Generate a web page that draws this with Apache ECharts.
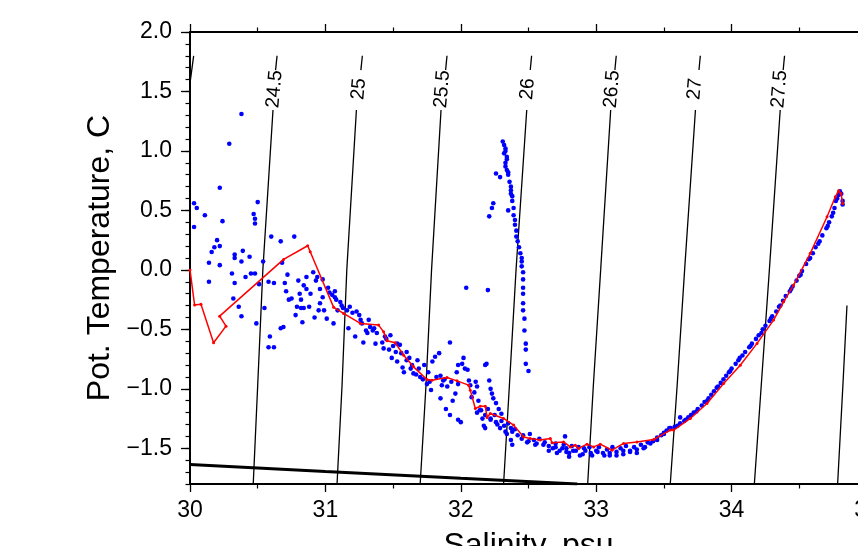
<!DOCTYPE html>
<html><head><meta charset="utf-8">
<script src="https://cdn.jsdelivr.net/npm/echarts@6/dist/echarts.min.js"></script>
<style>html,body{margin:0;padding:0;background:#fff}#c{width:858px;height:546px}</style>
</head><body><div id="c"></div>
<script>
// ---- axis ticks ----
const salinityTicks = [30, 31, 32, 33, 34, 35];
const tempTickLabels = [-1.5, -1.0, -0.5, 0.0, 0.5, 1.0, 1.5, 2.0];

// ---- isopycnals (sigma-theta), points [S, T]; null = label gap ----
const sigmaLevels = ['24', '24.5', '25', '25.5', '26', '26.5', '27', '27.5', '28'];
const iso24   = [[30.027,1.8],[30.0,1.57],[29.95,1.0]];
const iso245  = [[30.467,-1.8],[30.500,-0.97],[30.538,0],[30.613,1.344],null,[30.632,1.68],[30.643,1.8]];
const iso25   = [[31.086,-1.8],[31.123,-0.97],[31.158,0],[31.229,1.344],null,[31.262,1.68],[31.273,1.8]];
const iso255  = [[31.700,-1.8],[31.743,-0.97],[31.784,0],[31.854,1.344],null,[31.888,1.68],[31.898,1.8]];
const iso26   = [[32.316,-1.8],[32.359,-0.97],[32.408,0],[32.487,1.344],null,[32.513,1.68],[32.523,1.8]];
const iso265  = [[32.937,-1.8],[32.979,-0.97],[33.033,0],[33.107,1.344],null,[33.138,1.68],[33.148,1.8]];
const iso27   = [[33.547,-1.8],[33.598,-0.97],[33.653,0],[33.733,1.344],null,[33.759,1.68],[33.769,1.8]];
const iso275  = [[34.168,-1.8],[34.219,-0.97],[34.279,0],[34.359,1.344],null,[34.381,1.68],[34.391,1.8]];
const iso28   = [[34.783,-1.8],[34.822,-0.97],[34.852,-0.3]];
const isoLabelPos = [[30.625,1.52],[31.247,1.52],[31.863,1.52],[32.493,1.52],[33.117,1.52],[33.728,1.52],[34.354,1.52]];
const isoLabelText = ['24.5','25','25.5','26','26.5','27','27.5'];

// ---- freezing line ----
const freezingLine = [[30,-1.636],[31,-1.695],[32,-1.752],[32.86,-1.80]];

// ---- CTD samples (blue) ----
const surfaceCloud = [[30.38,1.31],[30.29,1.06],[30.22,0.69],[30.03,0.56],[30.05,0.52],[30.11,0.46],[30.50,0.57],[30.47,0.47],[30.48,0.43],[30.48,0.39],[30.03,0.36],[30.24,0.41],
[30.14,0.06],[30.14,-0.10],[30.16,0.15],[30.18,0.19],[30.20,0.25],[30.22,0.20],[30.22,0.04],[30.31,-0.03],[30.33,0.13],[30.33,0.10],[30.32,-0.24],[30.36,-0.31],[30.38,-0.39],[30.33,-0.11],[30.38,0.07],[30.39,0.16],[30.41,-0.06],[30.44,0.11],[30.45,-0.03],[30.48,-0.03],[30.49,-0.45],[30.51,-0.12],[30.54,0.07],[30.55,-0.32],[30.58,-0.10],[30.59,-0.56],[30.58,-0.65],[30.60,0.28],[30.62,-0.11],[30.62,-0.65],[30.67,0.24],[30.68,0.06],[30.67,-0.49],[30.69,-0.48],[30.70,-0.11],[30.71,-0.18],[30.72,-0.04],[30.73,-0.25],[30.75,-0.24],[30.77,0.28],[30.78,-0.38],[30.79,-0.31],[30.80,-0.09],[30.81,-0.20],[30.82,-0.25],[30.82,-0.32],[30.83,-0.44],[30.84,-0.13],[30.84,-0.32],[30.86,-0.06],[30.86,-0.16],[30.88,-0.31],[30.89,-0.20],[30.91,-0.02],[30.92,-0.40],[30.93,-0.09],[30.94,-0.06],[30.95,-0.34],[30.96,-0.16],[30.96,-0.28],[30.98,-0.23],[30.98,-0.08],[30.99,-0.34],[31.01,-0.41],[31.02,-0.15],[31.03,-0.19],[31.05,-0.21],[31.06,-0.45],[31.07,-0.23],[31.07,-0.18],[31.08,-0.25],[31.09,-0.34],[31.11,-0.27],[31.12,-0.30],[31.13,-0.32],[31.16,-0.34],[31.17,-0.49],[31.18,-0.31],[31.20,-0.36],[31.22,-0.56],[31.23,-0.35],[31.25,-0.38],[31.26,-0.42],[31.27,-0.45],[31.28,-0.61],[31.30,-0.51],[31.31,-0.53],[31.32,-0.42],[31.33,-0.48],[31.35,-0.51],[31.37,-0.62],[31.38,-0.53]];
const midSlope = [[31.36,-0.49],[31.42,-0.61],[31.44,-0.56],[31.48,-0.55],[31.43,-0.66],[31.47,-0.67],[31.52,-0.69],[31.53,-0.62],[31.55,-0.63],[31.49,-0.74],[31.53,-0.77],[31.57,-0.82],[31.58,-0.86],[31.60,-0.69],[31.62,-0.74],[31.64,-0.80],[31.65,-0.87],[31.68,-0.76],[31.69,-0.83],[31.70,-0.90],[31.73,-0.80],[31.75,-0.96],[31.78,-1.01],[31.76,-0.86],[31.79,-0.77],[31.81,-0.73],[31.84,-0.70],[31.92,-0.61],[31.85,-0.89],[31.87,-0.93],[31.86,-0.97],[31.90,-0.98],[31.85,-1.08],[31.89,-1.17],[31.92,-1.22],[31.98,-1.26],[32.00,-1.28],[31.94,-1.10],[31.96,-1.04],[31.98,-0.96],[32.01,-0.79],[32.02,-0.74],[32.03,-0.83],[32.05,-0.84],[32.06,-0.93],[31.97,-0.86],[31.98,-0.80],[32.07,-0.97],[32.08,-1.07],[32.10,-1.03],[32.11,-0.94],[32.12,-0.98],[32.13,-1.10],[32.14,-1.18],[32.16,-1.25],[32.18,-1.33],[32.17,-1.31],[32.18,-0.80],[32.19,-0.79],[32.21,-0.93],[32.22,-1.00],[32.23,-1.04],[32.24,-1.08],[32.26,-1.12],[32.28,-1.17],[32.30,-1.21],[32.22,-1.25],[32.26,-1.28],[32.29,-1.33],[32.32,-1.31],[32.34,-1.38],[32.37,-1.43],[32.38,-1.47],[32.33,-1.36],[32.37,-1.33],[32.04,-0.15],[32.20,-0.17],
[31.45,-0.58],[31.50,-0.64],[31.56,-0.70],[31.60,-0.76],[31.63,-0.83],[31.67,-0.88],[31.72,-0.92],[31.77,-0.94],[31.82,-0.90],[31.88,-0.92],[31.93,-0.94],[32.12,-1.20],[32.15,-1.18],[32.18,-1.22],[32.20,-1.17],[32.22,-1.26],[32.25,-1.22],[32.27,-1.30],[32.30,-1.27],[32.35,-1.29],[32.40,-1.34],[32.38,-1.36]];
const verticalStreak = [[32.31,1.08],[32.33,1.02],[32.32,0.98],[32.34,0.95],[32.33,0.90],[32.34,0.84],[32.35,0.80],[32.26,0.81],[32.29,0.78],[32.37,0.67],[32.38,0.62],[32.24,0.56],[32.23,0.52],[32.21,0.45],[32.35,0.50],[32.39,0.46],[32.32,1.05],[32.33,1.00],[32.34,0.93],[32.33,0.87],[32.35,0.82],[32.36,0.74],[32.37,0.70],[32.37,0.64],[32.38,0.58],[32.39,0.52],[32.40,0.42],[32.40,0.38],[32.41,0.33],[32.41,0.28],[32.42,0.24],[32.43,0.19],[32.44,0.14],[32.45,0.10],[32.45,0.07],[32.45,0.03],[32.46,-0.02],[32.46,-0.08],[32.46,-0.15],[32.46,-0.20],[32.46,-0.28],[32.46,-0.34],[32.47,-0.41],[32.47,-0.51],[32.48,-0.62],[32.48,-0.67],[32.48,-0.79],[32.50,-0.85]];
const minimumBand = [[32.42,-1.39],[32.45,-1.42],[32.46,-1.39],[32.49,-1.45],[32.50,-1.44],[32.51,-1.38],[32.54,-1.43],[32.55,-1.47],[32.56,-1.46],[32.58,-1.42],[32.61,-1.47],[32.62,-1.45],[32.65,-1.52],[32.65,-1.48],[32.68,-1.50],[32.70,-1.49],[32.71,-1.54],[32.70,-1.46],[32.73,-1.52],[32.75,-1.50],[32.76,-1.47],[32.77,-1.40],[32.78,-1.53],[32.78,-1.50],[32.80,-1.57],[32.80,-1.54],[32.82,-1.48],[32.83,-1.52],[32.85,-1.52],[32.87,-1.49],[32.88,-1.56],[32.90,-1.55],[32.91,-1.50],[32.92,-1.52],[32.95,-1.49],[32.96,-1.54],[32.97,-1.56],[33.00,-1.52],[33.01,-1.53],[33.02,-1.49],[33.05,-1.54],[33.06,-1.56],[33.08,-1.51],[33.10,-1.56],[33.10,-1.54],[33.12,-1.49],[33.15,-1.53],[33.15,-1.56],[33.18,-1.50],[33.20,-1.55],[33.20,-1.52],[33.22,-1.48],[33.25,-1.52],[33.25,-1.53],[33.28,-1.49],[33.30,-1.51],[33.30,-1.54],[33.33,-1.47],[33.35,-1.50],[33.36,-1.49],[33.38,-1.45],[33.40,-1.46],[33.42,-1.44],[33.45,-1.41],[33.45,-1.43],[33.48,-1.39],[33.50,-1.37],[33.50,-1.38],[33.52,-1.35],[33.54,-1.33]];
const deepBranch = [[33.55,-1.33],[33.58,-1.32],[33.62,-1.24],[33.62,-1.29],[33.65,-1.27],[33.68,-1.24],[33.70,-1.22],[33.72,-1.20],[33.75,-1.17],[33.78,-1.14],[33.80,-1.11],[33.83,-1.08],[33.85,-1.05],[33.87,-1.02],[33.89,-0.99],[33.92,-0.95],[33.94,-0.92],[33.96,-0.89],[33.98,-0.86],[34.00,-0.83],[34.03,-0.79],[34.05,-0.76],[34.08,-0.72],[34.10,-0.69],[34.13,-0.65],[34.15,-0.62],[34.18,-0.58],[34.20,-0.55],[34.23,-0.50],[34.25,-0.47],[34.28,-0.43],[34.30,-0.39],[34.33,-0.35],[34.35,-0.31],[34.38,-0.26],[34.40,-0.22],[34.43,-0.18],[34.45,-0.14],[34.48,-0.09],[34.50,-0.05],[34.52,-0.01],[34.55,0.05],[34.57,0.09],[34.60,0.14],[34.62,0.19],[34.65,0.24],[34.67,0.29],[34.70,0.35],[34.72,0.40],[34.74,0.45],[34.76,0.52],[34.77,0.58],[34.79,0.63],[34.80,0.66],[34.81,0.64],[34.82,0.58],[34.82,0.55],
[33.60,-1.31],[33.66,-1.26],[33.74,-1.19],[33.82,-1.10],[33.90,-0.98],[33.99,-0.85],[34.06,-0.74],[34.14,-0.64],[34.22,-0.53],[34.29,-0.41],[34.36,-0.30],[34.44,-0.16],[34.51,-0.04],[34.58,0.10],[34.64,0.22],[34.71,0.37],[34.75,0.48],[34.78,0.60]];

// ---- averaged profile (red) ----
const profileLine = [[30.0,0.0],[30.034,-0.296],[30.081,-0.288],[30.174,-0.613],[30.266,-0.473],[30.219,-0.389],[30.691,0.088],[30.869,0.203],[30.888,0.152],[31.061,-0.315],[31.134,-0.366],[31.258,-0.45],[31.393,-0.464],[31.430,-0.521],[31.455,-0.596],[31.516,-0.613],[31.578,-0.717],[31.651,-0.815],[31.750,-0.921],[31.787,-0.927],[31.898,-0.904],[31.972,-0.933],[32.058,-0.969],[32.070,-1.011],[32.107,-1.165],[32.144,-1.146],[32.181,-1.146],[32.194,-1.241],[32.218,-1.207],[32.316,-1.249],[32.390,-1.305],[32.464,-1.404],[32.513,-1.417],[32.587,-1.431],[32.661,-1.417],[32.674,-1.454],[32.759,-1.446],[32.809,-1.488],[32.846,-1.474],[32.870,-1.501],[32.932,-1.465],[32.981,-1.488],[33.030,-1.465],[33.117,-1.516],[33.202,-1.459],[33.301,-1.446],[33.424,-1.426],[33.547,-1.347],[33.572,-1.347],[33.695,-1.249],[33.818,-1.123],[33.941,-0.955],[34.064,-0.801],[34.188,-0.618],[34.310,-0.422],[34.384,-0.268],[34.458,-0.128],[34.581,0.139],[34.705,0.447],[34.766,0.615],[34.790,0.665],[34.808,0.643],[34.820,0.559]];

const FONT = '"Liberation Sans", Arial, Helvetica, sans-serif';
const fmt = v => (v < 0 ? '\u2212' : '') + Math.abs(v).toFixed(1);

function splitSegments(arr) {
  const segs = []; let cur = [];
  arr.forEach(p => { if (p === null) { if (cur.length) segs.push(cur); cur = []; } else cur.push(p); });
  if (cur.length) segs.push(cur);
  return segs;
}
const isoAll = [iso24, iso245, iso25, iso255, iso26, iso265, iso27, iso275, iso28];
const series = [];
isoAll.forEach(c => splitSegments(c).forEach(seg => series.push({
  type: 'line', data: seg, showSymbol: false, symbol: 'none', silent: true, smooth: false,
  lineStyle: { color: '#000', width: 1.3 }, clip: true, z: 2
})));
series.push({
  type: 'custom', silent: true, clip: false, z: 3,
  data: isoLabelPos.map((p, i) => [p[0], p[1], i]),
  renderItem: (params, api) => {
    const pt = api.coord([api.value(0), api.value(1)]);
    return {
      type: 'text', x: pt[0], y: pt[1], rotation: 85 * Math.PI / 180,
      style: { text: isoLabelText[api.value(2)], fill: '#000', fontSize: 19.5, fontFamily: FONT,
        align: 'center', verticalAlign: 'middle' }
    };
  }
});
series.push({
  type: 'line', data: freezingLine, showSymbol: false, symbol: 'none', silent: true,
  lineStyle: { color: '#000', width: 3 }, clip: true, z: 2
});
[surfaceCloud, midSlope, verticalStreak, minimumBand, deepBranch].forEach(g => series.push({
  type: 'scatter', data: g, symbol: 'circle', symbolSize: 4.6, silent: true,
  itemStyle: { color: '#0000ff', opacity: 1 }, clip: true, z: 4
}));
series.push({
  type: 'line', data: profileLine, symbol: 'circle', symbolSize: 3, showSymbol: true, silent: true,
  itemStyle: { color: '#ff0000', opacity: 1 }, lineStyle: { color: '#ff0000', width: 1.5 }, clip: true, z: 5
});

const axisLineStyle = { show: true, onZero: false, lineStyle: { color: '#000', width: 2 } };
const chart = echarts.init(document.getElementById('c'), null, { renderer: 'canvas' });
chart.setOption({
  animation: false,
  backgroundColor: '#fff',
  grid: { left: 190, top: 32, width: 677, height: 452, containLabel: false, outerBoundsMode: 'none', show: false },
  xAxis: [{
    type: 'value', min: 30, max: 35, interval: 1, position: 'bottom',
    axisLine: axisLineStyle,
    axisTick: { show: true, length: 8, lineStyle: { color: '#000', width: 1.3 } },
    minorTick: { show: true, splitNumber: 2, length: 4.5, lineStyle: { color: '#000', width: 1.2 } },
    axisLabel: { color: '#000', fontSize: 23, fontFamily: FONT, margin: 15,
      customValues: salinityTicks, formatter: v => String(v) },
    splitLine: { show: false },
    name: 'Salinity, psu', nameLocation: 'middle', nameGap: 46,
    nameTextStyle: { color: '#000', fontSize: 32, fontFamily: FONT }
  }, {
    type: 'value', min: 30, max: 35, interval: 1, position: 'top',
    axisLine: axisLineStyle,
    axisTick: { show: true, length: 8, lineStyle: { color: '#000', width: 1.3 } },
    minorTick: { show: true, splitNumber: 2, length: 4.5, lineStyle: { color: '#000', width: 1.2 } },
    axisLabel: { show: false }, splitLine: { show: false }
  }],
  yAxis: [{
    type: 'value', min: -1.8, max: 2.0, position: 'left',
    axisLine: axisLineStyle,
    axisTick: { show: true, length: 9, customValues: tempTickLabels, lineStyle: { color: '#000', width: 1.3 } },
    axisLabel: { color: '#000', fontSize: 23, fontFamily: FONT, margin: 18, customValues: tempTickLabels, formatter: fmt },
    splitLine: { show: false },
    name: 'Pot. Temperature, C', nameLocation: 'middle', nameGap: 66,
    nameTextStyle: { color: '#000', fontSize: 32, fontFamily: FONT }
  }, {
    type: 'value', min: -1.8, max: 2.0, interval: 0.1, position: 'left',
    axisLine: { show: false, onZero: false },
    axisTick: { show: true, length: 4.5, lineStyle: { color: '#000', width: 1.2 } },
    axisLabel: { show: false }, splitLine: { show: false }
  }],
  series: series
});
</script></body></html>
